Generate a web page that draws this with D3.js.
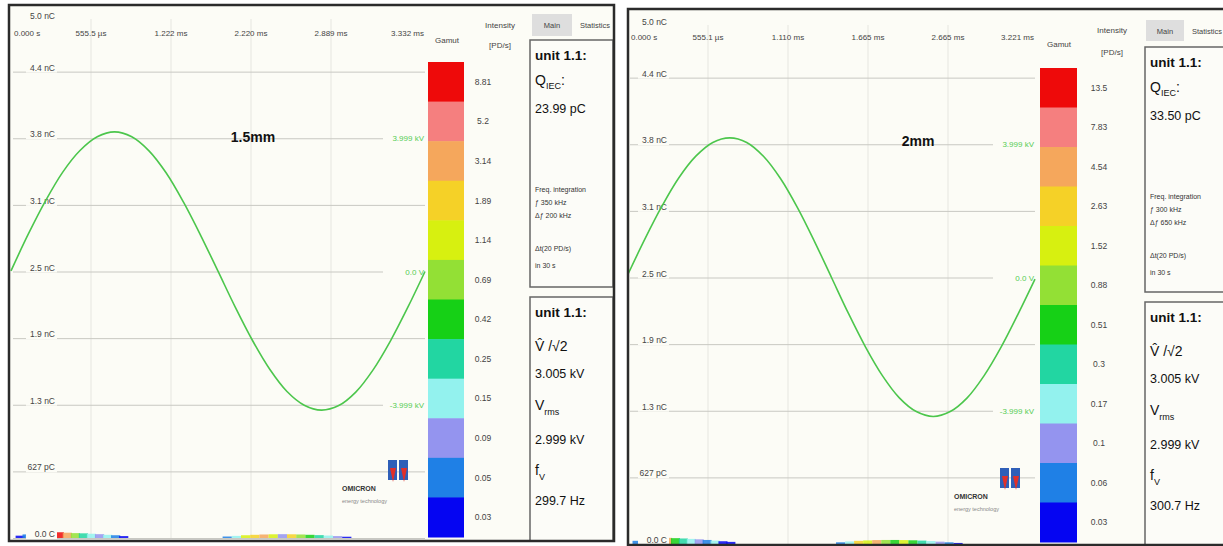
<!DOCTYPE html>
<html><head><meta charset="utf-8">
<script src="https://cdn.jsdelivr.net/npm/d3@7"></script>
<style>
html,body{margin:0;padding:0;background:#fff;}
svg{display:block;}
text{font-family:"Liberation Sans Narrow","Arial Narrow","Liberation Sans",sans-serif;}
</style>
</head><body>
<svg id="c" width="1223" height="546"></svg>
<script>
// ---------- data ----------
const chargeTicks = [0, 627, 1254, 1881, 2508, 3135, 3762, 4389, 5016]; // pC
const chargeTickLabels = ["0.0 C", "627 pC", "1.3 nC", "1.9 nC", "2.5 nC", "3.1 nC", "3.8 nC", "4.4 nC", "5.0 nC"];
const timeTickLabelsL = ["0.000 s", "555.5 µs", "1.222 ms", "2.220 ms", "2.889 ms", "3.332 ms"];
const timeTickLabelsR = ["0.000 s", "555.1 µs", "1.110 ms", "1.665 ms", "2.665 ms", "3.221 ms"];
const phaseDeg = [0, 15, 30, 45, 60, 75, 90, 105, 120, 135, 150, 165, 180, 195, 210, 225, 240, 255, 270, 285, 300, 315, 330, 345, 360];
const voltageL = [0.02, 1.14, 2.16, 3.04, 3.70, 4.12, 4.27, 4.12, 3.69, 3.01, 2.12, 1.10, 0.01, -1.09, -2.11, -2.99, -3.67, -4.09, -4.24, -4.10, -3.68, -3.00, -2.12, -1.10, 0.00];
const voltageR = [0.10, 1.18, 2.18, 3.05, 3.71, 4.13, 4.27, 4.13, 3.70, 3.02, 2.13, 1.10, 0.00, -1.10, -2.12, -3.00, -3.68, -4.10, -4.25, -4.10, -3.68, -3.00, -2.13, -1.12, -0.05];
const voltTickCharge = [3762, 2508, 1254];
const voltTickLabelsL = ["3.999 kV", "0.0 V", "-3.999 kV"];
const voltTickLabelsR = ["3.999 kV", "0.0 V", "-3.999 kV"];
const gamutColors = ["#ee0a0a", "#f57f7f", "#f5a75c", "#f5d127", "#d7f010", "#93e035", "#16d016", "#22d6a2", "#93f2ee", "#9494ef", "#1f80e6", "#0505f2"];
const gamutLabelsL = ["8.81", "5.2", "3.14", "1.89", "1.14", "0.69", "0.42", "0.25", "0.15", "0.09", "0.05", "0.03"];
const gamutLabelsR = ["13.5", "7.83", "4.54", "2.63", "1.52", "0.88", "0.51", "0.3", "0.17", "0.1", "0.06", "0.03"];
// PD pattern points: [phase deg, charge pC, gamut level index]
const pdL = [[4, 22, 11], [10, 34, 10], [17, 44, 8], [24, 50, 3], [31, 55, 1], [38, 54, 0], [45, 50, 2], [52, 46, 5], [59, 44, 7], [66, 40, 8], [73, 36, 9], [80, 30, 8], [87, 26, 10], [94, 18, 11],
  [184, 14, 10], [192, 20, 8], [200, 26, 4], [208, 30, 3], [216, 33, 2], [224, 35, 4], [232, 36, 9], [240, 35, 3], [248, 33, 5], [256, 30, 6], [264, 27, 7], [272, 23, 8], [280, 18, 9], [288, 12, 11]];
const pdR = [[4, 30, 10], [10, 42, 8], [17, 52, 3], [24, 56, 4], [31, 58, 2], [38, 55, 6], [45, 52, 7], [52, 48, 8], [59, 44, 9], [66, 38, 10], [73, 32, 8], [80, 26, 11], [87, 20, 11],
  [184, 16, 10], [192, 24, 8], [200, 30, 3], [208, 34, 4], [216, 37, 2], [224, 38, 5], [232, 38, 6], [240, 37, 4], [248, 35, 6], [256, 32, 7], [264, 28, 8], [272, 22, 9], [280, 16, 10], [288, 10, 11]];
const titleL = "1.5mm", titleR = "2mm";
const qiecL = "23.99 pC", qiecR = "33.50 pC";
const freqL = ["Freq. integration", "ƒ 350 kHz", "Δƒ 200 kHz", "Δt(20 PD/s)", "in 30 s"];
const freqR = ["Freq. integration", "ƒ 300 kHz", "Δƒ 650 kHz", "Δt(20 PD/s)", "in 30 s"];
const vpeakL = "3.005 kV", vpeakR = "3.005 kV";
const vrmsL = "2.999 kV", vrmsR = "2.999 kV";
const freqVL = "299.7 Hz", freqVR = "300.7 Hz";

// ---------- drawing ----------
const svg = d3.select("#c");
svg.append("rect").attr("width", 1223).attr("height", 546).attr("fill", "#ffffff");

function drawPanel(c) {
  const g = svg.append("g");
  g.append("rect").attr("x", c.bx0).attr("y", c.by0).attr("width", c.bx1 - c.bx0).attr("height", c.by1 - c.by0).attr("fill", "#fcfcf6");

  const y = d3.scaleLinear().domain([0, 5016]).range([c.yBot, c.yTop]);
  const xPh = d3.scaleLinear().domain([0, 360]).range([c.x0, c.x1]);
  const yV = d3.scaleLinear().domain([-8.15, 8.15]).range([c.yBot, c.yTop]);
  const xT = d3.scalePoint().domain(c.timeLabels).range([c.x0, c.x0 + 400]);

  // vertical grid
  g.selectAll(".vg").data(c.timeLabels.slice(1, 5)).join("line")
    .attr("x1", d => xT(d)).attr("x2", d => xT(d))
    .attr("y1", c.yTop + 14).attr("y2", c.yBot)
    .attr("stroke", "#e6e6e0").attr("stroke-width", 1);

  // horizontal grid
  g.selectAll(".hg").data(chargeTicks.slice(0, 8)).join("line")
    .attr("x1", c.x0 + 2).attr("x2", c.x1)
    .attr("y1", d => y(d) + 0.5).attr("y2", d => y(d) + 0.5)
    .attr("stroke", "#c8c8c2").attr("stroke-width", 1);

  // PD pattern
  const lvl = d3.scaleOrdinal().domain(d3.range(12)).range(gamutColors);
  g.selectAll(".pd").data(c.pd).join("rect")
    .attr("x", d => xPh(d[0])).attr("width", xPh(8) - xPh(0))
    .attr("y", d => y(d[1])).attr("height", d => y(0) - y(d[1]))
    .attr("fill", d => lvl(d[2])).attr("opacity", 0.85);

  // y tick labels
  const yl = g.selectAll(".yl").data(chargeTicks).join("g");
  yl.append("rect")
    .attr("x", c.yLabR - 29).attr("width", 31)
    .attr("y", (d, i) => (i === 8 ? y(d) + 6 : y(d) - 10)).attr("height", 11)
    .attr("fill", "#fcfcf6");
  yl.append("text")
    .attr("x", c.yLabR).attr("y", (d, i) => (i === 8 ? y(d) + 14 : y(d) - 1))
    .attr("text-anchor", "end").attr("font-size", 8.5).attr("fill", "#444")
    .text((d, i) => chargeTickLabels[i]);

  // time tick labels
  g.selectAll(".xl").data(c.timeLabels).join("text")
    .attr("x", (d, i) => i === 0 ? c.x0 + 3 : (i === c.timeLabels.length - 1 ? c.x1 - 1 : xT(d)))
    .attr("y", c.timeY)
    .attr("text-anchor", (d, i) => i === 0 ? "start" : (i === c.timeLabels.length - 1 ? "end" : "middle"))
    .attr("font-size", 8).attr("fill", "#444").text(d => d);

  // voltage labels (green)
  const vl = g.selectAll(".vl").data(voltTickCharge).join("g");
  vl.append("rect").attr("x", c.x1 - 42).attr("width", 42)
    .attr("y", d => y(d) - 5).attr("height", 10).attr("fill", "#fcfcf6");
  vl.append("text").attr("x", c.x1 - 1).attr("y", d => y(d) + 3)
    .attr("text-anchor", "end").attr("font-size", 8).attr("fill", "#55cc55")
    .text((d, i) => c.voltLabels[i]);

  // voltage waveform
  const line = d3.line().x((d, i) => xPh(phaseDeg[i])).y(d => yV(d)).curve(d3.curveCatmullRom);
  g.append("path").datum(c.volt).attr("d", line)
    .attr("fill", "none").attr("stroke", "#4cc64c").attr("stroke-width", 1.6);

  // title
  g.append("text").attr("x", c.title[0]).attr("y", c.title[1])
    .attr("text-anchor", "middle").attr("font-size", 14).attr("font-weight", "bold")
    .attr("fill", "#111").text(c.titleText);

  // logo
  const lg = g.append("g").attr("transform", `translate(${c.logo[0]},${c.logo[1]})`);
  [[0, 0], [11, 0]].forEach(p => {
    lg.append("rect").attr("x", p[0]).attr("y", p[1]).attr("width", 9).attr("height", 20).attr("fill", "#2f5fb8");
    lg.append("path").attr("d", `M${p[0] + 2},${p[1] + 8} L${p[0] + 8},${p[1] + 8} L${p[0] + 5},${p[1] + 22} Z`).attr("fill", "#e0302a");
  });
  g.append("text").attr("x", c.logo[0] - 46).attr("y", c.logo[1] + 31)
    .attr("font-size", 7).attr("font-weight", "bold").attr("fill", "#333").text("OMICRON");
  g.append("text").attr("x", c.logo[0] - 46).attr("y", c.logo[1] + 43)
    .attr("font-size", 5.5).attr("fill", "#888").text("energy technology");

  // colorbar
  const cb = d3.scaleBand().domain(c.gamutLabels).range([c.cb.y0, c.cb.y1]);
  g.selectAll(".cb").data(c.gamutLabels).join("rect")
    .attr("x", c.cb.x).attr("width", c.cb.w)
    .attr("y", d => cb(d)).attr("height", cb.bandwidth() + 0.5)
    .attr("fill", (d, i) => gamutColors[i]);
  g.selectAll(".cbl").data(c.gamutLabels).join("text")
    .attr("x", c.cbLabX).attr("y", d => cb(d) + cb.bandwidth() / 2 + 3)
    .attr("text-anchor", "middle").attr("font-size", 8.5).attr("fill", "#444").text(d => d);
  g.append("text").attr("x", c.gamut[0]).attr("y", c.gamut[1]).attr("text-anchor", "middle")
    .attr("font-size", 8).attr("fill", "#444").text("Gamut");
  g.append("text").attr("x", c.intens[0]).attr("y", c.intens[1]).attr("text-anchor", "middle")
    .attr("font-size", 8).attr("fill", "#444").text("Intensity");
  g.append("text").attr("x", c.intens[0]).attr("y", c.intens[2]).attr("text-anchor", "middle")
    .attr("font-size", 8).attr("fill", "#444").text("[PD/s]");

  // tabs
  g.append("rect").attr("x", c.tab[0]).attr("y", c.tab[1]).attr("width", c.tab[2]).attr("height", c.tab[3]).attr("fill", "#dedede");
  g.append("text").attr("x", c.tab[0] + c.tab[2] / 2).attr("y", c.tab[1] + c.tab[3] / 2 + 3)
    .attr("text-anchor", "middle").attr("font-size", 7.5).attr("fill", "#444").text("Main");
  g.append("text").attr("x", c.tab[0] + c.tab[2] + 23).attr("y", c.tab[1] + c.tab[3] / 2 + 3)
    .attr("text-anchor", "middle").attr("font-size", 7.5).attr("fill", "#444").text("Statistics");

  // info boxes
  const ub = c.upper, lb = c.lower;
  g.append("rect").attr("x", ub[0]).attr("y", ub[1]).attr("width", ub[2]).attr("height", ub[3])
    .attr("fill", "#fcfcf8").attr("stroke", "#666").attr("stroke-width", 1.5);
  g.append("rect").attr("x", lb[0]).attr("y", lb[1]).attr("width", lb[2]).attr("height", lb[3])
    .attr("fill", "#fcfcf8").attr("stroke", "#666").attr("stroke-width", 1.5);
  const tx = ub[0] + 5;
  const big = (yy, s, fs) => g.append("text").attr("x", tx).attr("y", yy).attr("font-size", fs || 13).attr("fill", "#111").text(s);
  big(ub[1] + 20, "unit 1.1:", 13.5).attr("font-weight", "bold");
  const q = big(ub[1] + 45, "Q", 14);
  q.append("tspan").attr("font-size", 9).attr("dy", 4).text("IEC");
  q.append("tspan").attr("dy", -4).text(":");
  big(ub[1] + 73, c.qiec, 12.5);
  const sm = [152, 165, 178, 211, 228];
  c.freq.forEach((s, i) => big(ub[1] + sm[i], s, 7).attr("fill", "#333"));

  big(lb[1] + 20, "unit 1.1:", 13.5).attr("font-weight", "bold");
  big(lb[1] + 54, "V̂ /√2", 14);
  big(lb[1] + 81, c.vpeak, 12.5);
  const v2 = big(lb[1] + 113, "V", 14);
  v2.append("tspan").attr("font-size", 9).attr("dy", 5).text("rms");
  big(lb[1] + 147, c.vrms, 12.5);
  const v3 = big(lb[1] + 178, "f", 14);
  v3.append("tspan").attr("font-size", 9).attr("dy", 5).text("V");
  big(lb[1] + 208, c.fv, 12.5);

  // panel border
  g.append("rect").attr("x", c.bx0).attr("y", c.by0).attr("width", c.bx1 - c.bx0).attr("height", c.by1 - c.by0)
    .attr("fill", "none").attr("stroke", "#2b2b2b").attr("stroke-width", 2.5);
}

drawPanel({
  bx0: 9, by0: 5, bx1: 614, by1: 541,
  x0: 11, x1: 425, yTop: 5, yBot: 538, yLabR: 55, timeY: 36,
  timeLabels: timeTickLabelsL, volt: voltageL, voltLabels: voltTickLabelsL, pd: pdL,
  titleText: titleL, title: [253, 142],
  logo: [388, 460],
  cb: {x: 428, w: 36, y0: 62, y1: 537}, cbLabX: 483, gamutLabels: gamutLabelsL,
  gamut: [447, 43], intens: [500, 28, 48],
  tab: [532, 14, 40, 22],
  upper: [530, 40, 83, 247], lower: [530, 297, 83, 244],
  qiec: qiecL, freq: freqL, vpeak: vpeakL, vrms: vrmsL, fv: freqVL
});
drawPanel({
  bx0: 628, by0: 9, bx1: 1232, by1: 545,
  x0: 628, x1: 1035, yTop: 11, yBot: 544, yLabR: 667, timeY: 40,
  timeLabels: timeTickLabelsR, volt: voltageR, voltLabels: voltTickLabelsR, pd: pdR,
  titleText: titleR, title: [918, 146],
  logo: [1000, 468],
  cb: {x: 1040, w: 37, y0: 68, y1: 542}, cbLabX: 1099, gamutLabels: gamutLabelsR,
  gamut: [1059, 47], intens: [1112, 33, 55],
  tab: [1146, 20, 38, 21],
  upper: [1145, 47, 90, 245], lower: [1145, 302, 90, 250],
  qiec: qiecR, freq: freqR, vpeak: vpeakR, vrms: vrmsR, fv: freqVR
});
</script>
</body></html>
